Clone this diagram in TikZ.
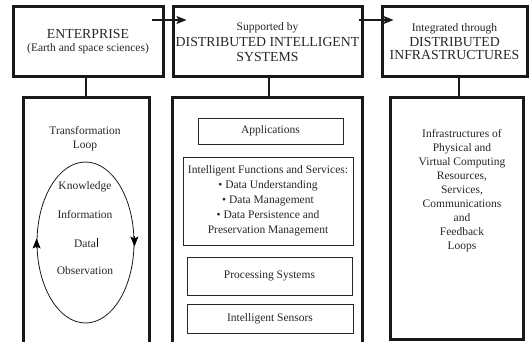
\documentclass[tikz,border=0pt]{standalone}
\usepackage{fontspec}
\setmainfont{Liberation Serif}
\usetikzlibrary{arrows.meta,shapes.geometric}
\newcommand{\headfont}{\fontsize{13.8}{17}\selectfont}
\newcommand{\bodyfont}{\fontsize{11.5}{14}\selectfont}
\begin{document}
\begin{tikzpicture}[x=1pt,y=-1pt,
  every node/.style={text=black!85, font=\bodyfont, align=center, inner sep=0pt},
  frame/.style={draw=black!90, line width=3pt},
  headbox/.style={frame, minimum width=#1, minimum height=70pt},
  lowbox/.style={frame, minimum width=#1},
  itembox/.style={draw=black!85, line width=0.8pt, minimum width=#1},
  conn/.style={draw=black!90, line width=1.2pt},
  flow/.style={conn, -{Stealth[length=10pt,width=8pt,inset=2pt]}},
  looparrow/.style={line width=0.8pt, -{Stealth[length=10pt,width=8pt,inset=2pt]}},
]
\useasboundingbox (0,0) rectangle (531,342);
\clip (0,0) rectangle (531,342);

% top row: enterprise and its supporting layers
\node[headbox=150pt] (ent) at (88,42)
  {{\headfont ENTERPRISE}\\[-1pt](Earth and space sciences)};
\node[headbox=189pt] (dis) at (267.5,42)
  {Supported by\\[2pt]{\headfont DISTRIBUTED INTELLIGENT}\\[1pt]{\headfont SYSTEMS}};
\node[headbox=145pt] (inf) at (454.5,42)
  {Integrated through\\[1pt]{\headfont DISTRIBUTED}\\[-1pt]{\headfont INFRASTRUCTURES}};

% horizontal flow arrows
\draw[flow] ([xshift=-13pt,yshift=22pt]ent.east) -- ([xshift=15pt,yshift=22pt]dis.west);
\draw[flow] ([xshift=-5pt,yshift=22pt]dis.east) -- ([xshift=13pt,yshift=22pt]inf.west);

% lower column frames (first two run past the bottom edge)
\node[lowbox=126pt, minimum height=252pt] (colA) at (86,224) {};
\node[lowbox=190pt, minimum height=252pt] (colB) at (267,224) {};
\node[lowbox=133pt, minimum height=242pt] (colC) at (456.5,219) {};

% vertical links between the rows
\draw[conn] (ent.south -| colA.north) -- (colA.north);
\draw[conn] (dis.south -| 269,0) -- (colB.north -| 269,0);
\draw[conn] (inf.south -| 459,0) -- (colC.north -| 459,0);

% transformation loop
\node (tl) at (85,138.5) {Transformation\\Loop};
\node[draw=black!90, line width=0.8pt, ellipse, minimum width=97pt, minimum height=161pt] (loop) at (85.5,242.5) {};
\draw[looparrow] ([yshift=-6pt]loop.west) -- ([yshift=4pt]loop.west);
\draw[looparrow] ([yshift=6pt]loop.east) -- ([yshift=-4pt]loop.east);
\node (know) at (85,187) {Knowledge};
\node (info) at (85,215) {Information};
\node (data) at (85,243.5) {Data};
\node (obs) at (85,271) {Observation};
\draw[line width=0.7pt] ([xshift=0.8pt]data.east) ++(0,-5) -- ++(0,9);

% distributed intelligent systems stack
\node[itembox=145pt, minimum height=26pt] (app) at (270.5,131) {Applications};
\node[itembox=170pt, minimum height=88pt] (ifs) at (268,201)
  {Intelligent Functions and Services:\\[1pt]
   \textbullet{} Data Understanding\\[1pt]
   \textbullet{} Data Management\\[1pt]
   \textbullet{} Data Persistence and\\[1pt]
   Preservation Management};
\node[itembox=165pt, minimum height=38pt] (proc) at (269.5,276) {Processing Systems};
\node[itembox=166pt, minimum height=29pt] (sens) at (270,318.5) {Intelligent Sensors};

% infrastructures
\node (infra) at (462,191)
  {Infrastructures of\\Physical and\\Virtual Computing\\Resources,\\Services,\\Communications\\and\\Feedback\\Loops};
\end{tikzpicture}
\end{document}
